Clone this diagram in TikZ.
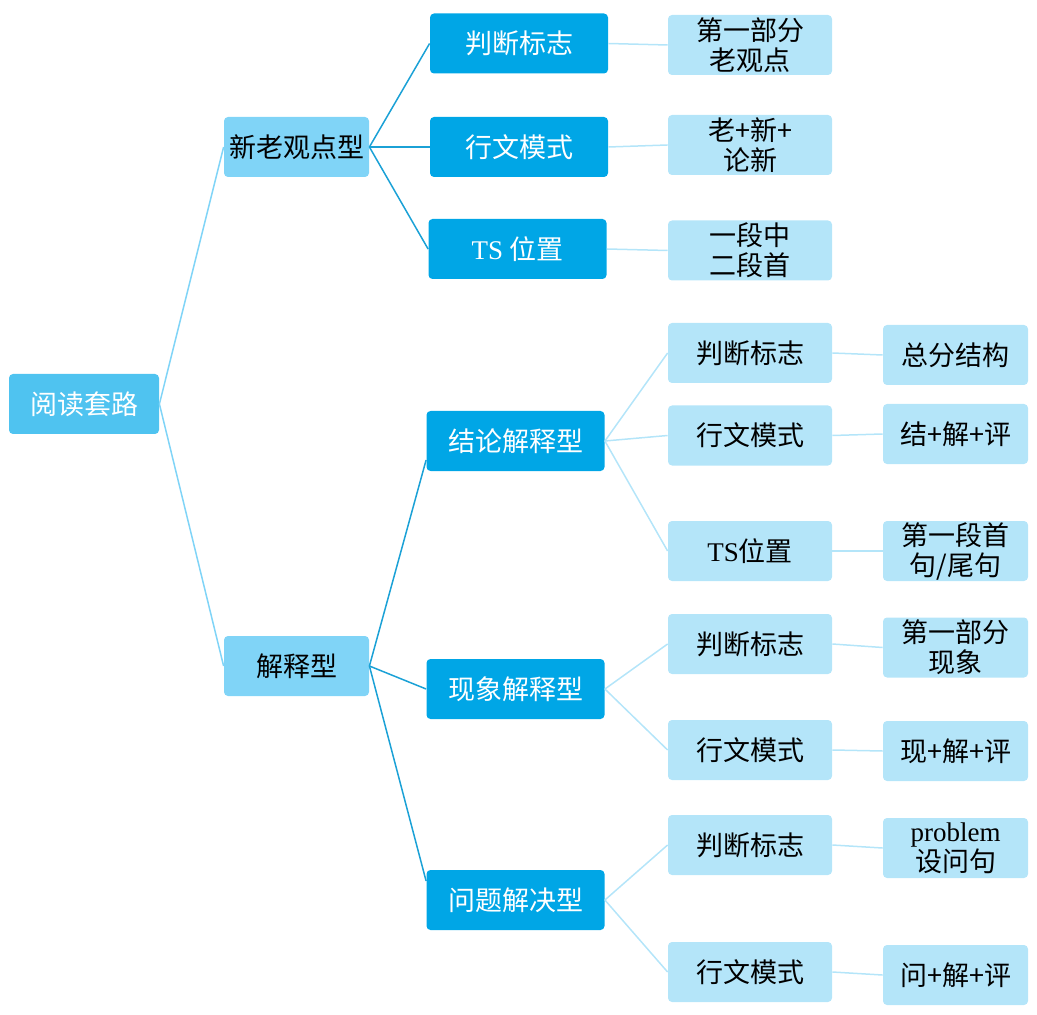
\documentclass[tikz,border=0pt]{standalone}
\usepackage{fontspec}
\setmainfont{Noto Sans CJK SC}
\newfontfamily\latin{Liberation Serif}
\definecolor{rootblue}{HTML}{4FC3F0}
\definecolor{midblue}{HTML}{80D4F7}
\definecolor{darkblue}{HTML}{00A6E6}
\definecolor{paleblue}{HTML}{B4E5F9}
\definecolor{linemid}{HTML}{1BA1D6}
\tikzset{
	box/.style={rounded corners=2pt, minimum height=30pt, inner sep=0pt, align=center, font=\fontsize{13.5}{15}\selectfont},
	rootbox/.style={box, fill=rootblue, text=white, minimum width=75pt},
	typebox/.style={box, fill=midblue, minimum width=72.5pt},
	kindbox/.style={box, fill=darkblue, text=white, minimum width=89pt},
	pointbox/.style={box, fill=paleblue, minimum width=82pt},
	notebox/.style={box, fill=paleblue, minimum width=72.5pt},
	link/.style={line width=0.75pt}
}
\begin{document}
\begin{tikzpicture}[x=0.5pt, y=-0.5pt]
	\useasboundingbox (0,0) rectangle (1037,1015);
	% root and types
	\node[rootbox] (root) at (84,404) {阅读套路};
	\node[typebox] (xl) at (296.5,147) {新老观点型};
	\node[typebox] (js) at (296.5,666) {解释型};
	% kinds
	\node[kindbox] (xlpd) at (519,43.5) {判断标志};
	\node[kindbox] (xlxw) at (519,147) {行文模式};
	\node[kindbox] (xlts) at (517.5,249) {{\latin TS} 位置};
	\node[kindbox] (jl) at (515.5,441) {结论解释型};
	\node[kindbox] (xx) at (515.5,689) {现象解释型};
	\node[kindbox] (wt) at (515.5,900) {问题解决型};
	% points
	\node[pointbox] (xlpdn) at (750,45) {第一部分\\老观点};
	\node[pointbox] (xlxwn) at (750,145) {老+新+\\论新};
	\node[pointbox] (xltsn) at (750,250.5) {一段中\\二段首};
	\node[pointbox] (jlpd) at (750,353) {判断标志};
	\node[pointbox] (jlxw) at (750,435.5) {行文模式};
	\node[pointbox] (jlts) at (750,551) {{\latin TS}位置};
	\node[pointbox] (xxpd) at (750,644) {判断标志};
	\node[pointbox] (xxxw) at (750,750) {行文模式};
	\node[pointbox] (wtpd) at (750,845) {判断标志};
	\node[pointbox] (wtxw) at (750,972) {行文模式};
	% notes
	\node[notebox] (jlpdn) at (955.5,355) {总分结构};
	\node[notebox] (jlxwn) at (955.5,434) {结+解+评};
	\node[notebox] (jltsn) at (955.5,551) {第一段首\\句/尾句};
	\node[notebox] (xxpdn) at (955.5,647.5) {第一部分\\现象};
	\node[notebox] (xxxwn) at (955.5,751) {现+解+评};
	\node[notebox] (wtpdn) at (955.5,848) {{\latin problem}\\设问句};
	\node[notebox] (wtxwn) at (955.5,975) {问+解+评};
	% links
	\foreach \b in {xl,js}
		\draw[link, midblue] (root.east) -- (\b.west);
	\foreach \a/\b in {xl/xlpd.west,xl/xlxw.west,xl/xlts.west,js/jl.192,js/xx.west,js/wt.168}
		\draw[link, linemid] (\a.east) -- (\b);
	\foreach \a/\b in {xlpd/xlpdn,xlxw/xlxwn,xlts/xltsn,jl/jlpd,jl/jlxw,jl/jlts,xx/xxpd,xx/xxxw,wt/wtpd,wt/wtxw,jlpd/jlpdn,jlxw/jlxwn,jlts/jltsn,xxpd/xxpdn,xxxw/xxxwn,wtpd/wtpdn,wtxw/wtxwn}
		\draw[link, paleblue] (\a.east) -- (\b.west);
\end{tikzpicture}
\end{document}
